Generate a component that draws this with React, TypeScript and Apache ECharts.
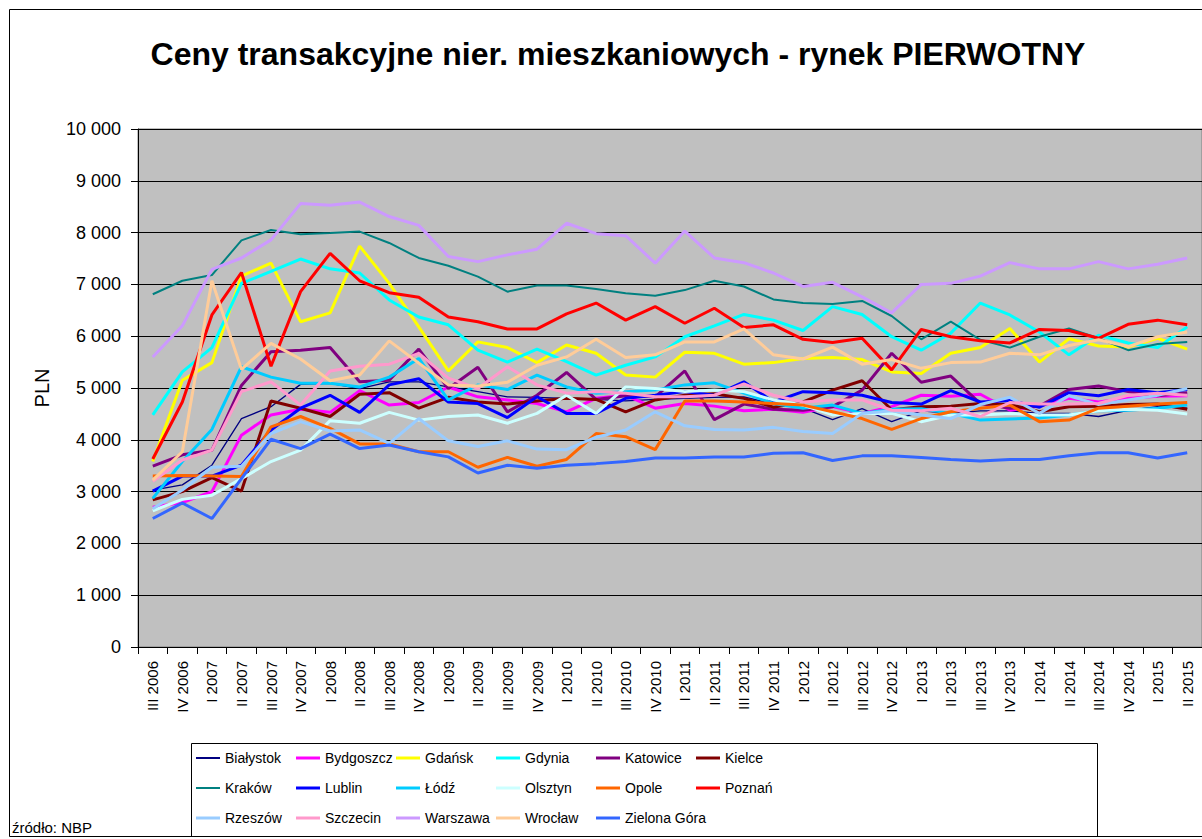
import React, { useEffect, useRef } from 'react';
import * as echarts from 'echarts';

const quarters = [
  'III 2006', 'IV 2006', 'I 2007', 'II 2007', 'III 2007', 'IV 2007',
  'I 2008', 'II 2008', 'III 2008', 'IV 2008', 'I 2009', 'II 2009',
  'III 2009', 'IV 2009', 'I 2010', 'II 2010', 'III 2010', 'IV 2010',
  'I 2011', 'II 2011', 'III 2011', 'IV 2011', 'I 2012', 'II 2012',
  'III 2012', 'IV 2012', 'I 2013', 'II 2013', 'III 2013', 'IV 2013',
  'I 2014', 'II 2014', 'III 2014', 'IV 2014', 'I 2015', 'II 2015',
];

const bialystok = [3030, 3130, 3510, 4410, 4640, 5070, 5090, 4990, 5120, 5120, 5020, 4930, 4830, 4820, 4800, 4780, 4750, 4780, 4800, 4820, 4830, 4690, 4610, 4390, 4600, 4350, 4560, 4510, 4560, 4560, 4510, 4510, 4450, 4570, 4640, 4610];
const bydgoszcz = [2700, 2790, 3000, 4090, 4480, 4590, 4530, 4950, 4670, 4720, 5020, 4830, 4770, 4700, 4540, 4800, 4860, 4610, 4700, 4650, 4560, 4590, 4530, 4640, 4510, 4640, 4860, 4840, 4880, 4570, 4650, 4800, 4730, 4800, 4840, 4850];
const gdansk = [3580, 5150, 5490, 7160, 7410, 6280, 6450, 7740, 7020, 6180, 5330, 5890, 5780, 5490, 5830, 5670, 5250, 5210, 5690, 5670, 5460, 5490, 5570, 5590, 5550, 5310, 5280, 5670, 5780, 6150, 5500, 5950, 5810, 5790, 5960, 5750];
const gdynia = [4480, 5310, 5780, 7020, 7250, 7490, 7300, 7220, 6700, 6370, 6220, 5730, 5500, 5750, 5510, 5250, 5440, 5600, 5990, 6200, 6420, 6310, 6110, 6570, 6420, 5990, 5730, 6060, 6640, 6410, 6080, 5640, 6020, 5870, 5780, 6180];
const katowice = [3490, 3710, 3800, 5050, 5700, 5730, 5780, 5120, 5150, 5750, 4990, 5400, 4540, 4860, 5300, 4780, 4850, 4830, 5330, 4390, 4690, 4590, 4570, 4640, 4960, 5670, 5110, 5230, 4700, 4610, 4650, 4970, 5040, 4930, 4850, 4910];
const kielce = [2840, 3000, 3270, 3010, 4750, 4610, 4450, 4880, 4910, 4610, 4820, 4730, 4690, 4750, 4800, 4780, 4540, 4770, 4860, 4890, 4800, 4630, 4730, 4960, 5140, 4580, 4640, 4650, 4700, 4680, 4540, 4640, 4650, 4680, 4690, 4590];
const krakow = [6810, 7070, 7180, 7850, 8050, 7970, 7990, 8020, 7800, 7510, 7360, 7150, 6860, 6980, 6980, 6910, 6830, 6780, 6890, 7070, 6960, 6710, 6640, 6620, 6680, 6390, 5940, 6280, 5930, 5780, 5990, 6150, 5960, 5730, 5850, 5890];
const lublin = [3010, 3300, 3300, 3510, 4190, 4610, 4860, 4530, 5060, 5180, 4730, 4700, 4430, 4830, 4510, 4510, 4800, 4860, 4930, 4860, 5120, 4730, 4930, 4910, 4860, 4720, 4690, 4950, 4730, 4760, 4630, 4910, 4850, 4970, 4910, 4970];
const lodz = [2870, 3580, 4200, 5410, 5210, 5090, 5090, 5020, 5210, 5570, 4770, 5060, 4970, 5250, 5020, 4900, 4930, 4960, 5060, 5100, 4900, 4700, 4610, 4670, 4510, 4590, 4600, 4510, 4380, 4400, 4420, 4480, 4560, 4570, 4610, 4670];
const olsztyn = [2630, 2850, 2930, 3250, 3580, 3800, 4370, 4320, 4530, 4380, 4450, 4480, 4320, 4510, 4860, 4510, 5020, 4990, 4930, 4960, 4930, 4770, 4670, 4480, 4510, 4510, 4350, 4480, 4480, 4510, 4480, 4480, 4560, 4590, 4570, 4500];
const opole = [3300, 3310, 3300, 3290, 4250, 4450, 4220, 3920, 3920, 3770, 3770, 3470, 3660, 3490, 3620, 4120, 4060, 3810, 4750, 4750, 4730, 4700, 4670, 4540, 4410, 4200, 4410, 4540, 4610, 4670, 4350, 4380, 4610, 4650, 4690, 4720];
const poznan = [3630, 4730, 6410, 7230, 5420, 6860, 7600, 7070, 6840, 6750, 6370, 6280, 6140, 6140, 6430, 6640, 6310, 6570, 6250, 6540, 6170, 6220, 5940, 5880, 5960, 5350, 6130, 5990, 5910, 5870, 6130, 6110, 5960, 6230, 6310, 6220];
const rzeszow = [2670, 3030, 3470, 3490, 4120, 4350, 4170, 4190, 3930, 4410, 3980, 3870, 3980, 3820, 3810, 4050, 4190, 4540, 4270, 4200, 4190, 4240, 4160, 4120, 4510, 4560, 4480, 4410, 4680, 4820, 4510, 4850, 4680, 4770, 4860, 4990];
const szczecin = [3200, 3610, 3800, 4930, 5120, 4670, 5330, 5420, 5460, 5670, 5190, 4990, 5410, 5060, 4900, 4930, 4900, 4830, 4830, 4860, 5080, 4860, 4730, 4770, 4770, 4570, 4560, 4610, 4450, 4720, 4690, 4690, 4700, 4860, 4900, 4860];
const warszawa = [5600, 6200, 7290, 7510, 7860, 8560, 8530, 8590, 8310, 8140, 7540, 7440, 7570, 7680, 8180, 7980, 7940, 7410, 8030, 7510, 7420, 7220, 6960, 7040, 6760, 6450, 7000, 7020, 7160, 7420, 7300, 7300, 7440, 7300, 7390, 7510];
const wroclaw = [3220, 3770, 7070, 5360, 5860, 5560, 5140, 5250, 5910, 5480, 5060, 5040, 5110, 5440, 5600, 5940, 5590, 5640, 5890, 5890, 6140, 5640, 5560, 5790, 5460, 5550, 5380, 5490, 5500, 5670, 5640, 5820, 5930, 5800, 5990, 6080];
const zielonaGora = [2480, 2780, 2480, 3250, 4010, 3830, 4110, 3830, 3900, 3770, 3670, 3360, 3510, 3450, 3510, 3540, 3580, 3650, 3650, 3670, 3670, 3740, 3750, 3600, 3690, 3690, 3660, 3620, 3590, 3620, 3620, 3690, 3750, 3750, 3650, 3750];

const cityNames = [
  'Białystok', 'Bydgoszcz', 'Gdańsk', 'Gdynia', 'Katowice', 'Kielce',
  'Kraków', 'Lublin', 'Łódź', 'Olsztyn', 'Opole', 'Poznań',
  'Rzeszów', 'Szczecin', 'Warszawa', 'Wrocław', 'Zielona Góra',
];
const cityValues = [
  bialystok, bydgoszcz, gdansk, gdynia, katowice, kielce,
  krakow, lublin, lodz, olsztyn, opole, poznan,
  rzeszow, szczecin, warszawa, wroclaw, zielonaGora,
];

const titleText = 'Ceny transakcyjne nier. mieszkaniowych - rynek PIERWOTNY';
const yAxisName = 'PLN';
const sourceText = 'źródło: NBP';

// styles
const lineColors = [
  '#000080', '#FF00FF', '#FFFF00', '#00FFFF', '#800080', '#800000',
  '#008080', '#0000FF', '#00CCFF', '#CCFFFF', '#FF6600', '#FF0000',
  '#99CCFF', '#FF99CC', '#CC99FF', '#FFCC99', '#3366FF',
];
const lineWidths = [1.3, 3, 3, 3, 3, 3, 2, 3, 3, 3, 3, 3, 3, 3, 3, 3, 3];
const legendIconHeights = [2, 3, 3, 3, 3, 3, 2, 3, 3, 3, 3, 3, 3, 3, 3, 3, 3];

const FONT = "'Liberation Sans', Arial, Helvetica, sans-serif";

const fmt = (v: number) => String(v).replace(/\B(?=(\d{3})+(?!\d))/g, ' ');

export default function App() {
  const ref = useRef<HTMLDivElement>(null);

  useEffect(() => {
    if (!ref.current) return;
    const chart = echarts.init(ref.current, null, { renderer: 'svg' });

    const legends = cityNames.map((name, i) => ({
      data: [name],
      left: 196 + 100 * (i % 6),
      top: 751 + 30 * Math.floor(i / 6),
      padding: 0,
      icon: 'rect',
      itemWidth: 24,
      itemHeight: legendIconHeights[i],
      itemGap: 0,
      textStyle: { fontSize: 14, fontFamily: FONT, color: '#000' },
    }));

    const series = cityNames.map((name, i) => ({
      name,
      type: 'line',
      data: cityValues[i],
      symbol: 'none',
      showSymbol: false,
      color: lineColors[i],
      lineStyle: { color: lineColors[i], width: lineWidths[i] },
      emphasis: { disabled: true },
    }));

    chart.setOption({
      animation: false,
      backgroundColor: '#ffffff',
      title: {
        text: titleText,
        left: 613,
        top: 33,
        textAlign: 'center',
        textStyle: { fontFamily: FONT, fontSize: 32, fontWeight: 'bold', color: '#000' },
      },
      grid: {
        left: 138,
        top: 129,
        right: 0,
        bottom: 192,
        show: true,
        backgroundColor: '#C0C0C0',
        borderColor: '#808080',
        borderWidth: 1,
      },
      xAxis: {
        type: 'category',
        data: quarters,
        boundaryGap: true,
        axisLine: { show: true, lineStyle: { color: '#000', width: 1 } },
        axisTick: { show: true, length: 7, lineStyle: { color: '#000' } },
        axisLabel: { rotate: 90, interval: 0, fontSize: 15, fontFamily: FONT, color: '#000', margin: 14 },
        splitLine: { show: false },
      },
      yAxis: {
        type: 'value',
        min: 0,
        max: 10000,
        interval: 1000,
        name: yAxisName,
        nameLocation: 'middle',
        nameRotate: 90,
        nameGap: 86,
        nameTextStyle: { fontFamily: FONT, fontSize: 20, color: '#000' },
        axisLine: { show: true, lineStyle: { color: '#000', width: 1 } },
        axisTick: { show: true, length: 7, lineStyle: { color: '#000' } },
        axisLabel: { formatter: fmt, fontFamily: FONT, fontSize: 18, color: '#000', margin: 17 },
        splitLine: { show: true, lineStyle: { color: '#000', width: 1 } },
      },
      legend: legends,
      graphic: [
        {
          type: 'rect',
          shape: { x: 9.5, y: 9.5, width: 1220, height: 827 },
          style: { fill: 'none', stroke: '#000', lineWidth: 1 },
          silent: true,
          z: -1,
        },
        {
          type: 'rect',
          shape: { x: 191.5, y: 743.5, width: 906, height: 93 },
          style: { fill: 'none', stroke: '#000', lineWidth: 1 },
          silent: true,
        },
        {
          type: 'text',
          x: 12,
          y: 820,
          style: { text: sourceText, fontFamily: FONT, fontSize: 15, fill: '#000' },
          silent: true,
        },
      ],
      series,
    });

    return () => chart.dispose();
  }, []);

  return (
    <div
      ref={ref}
      style={{ position: 'absolute', left: 0, top: 0, width: 1202, height: 839 }}
    />
  );
}
